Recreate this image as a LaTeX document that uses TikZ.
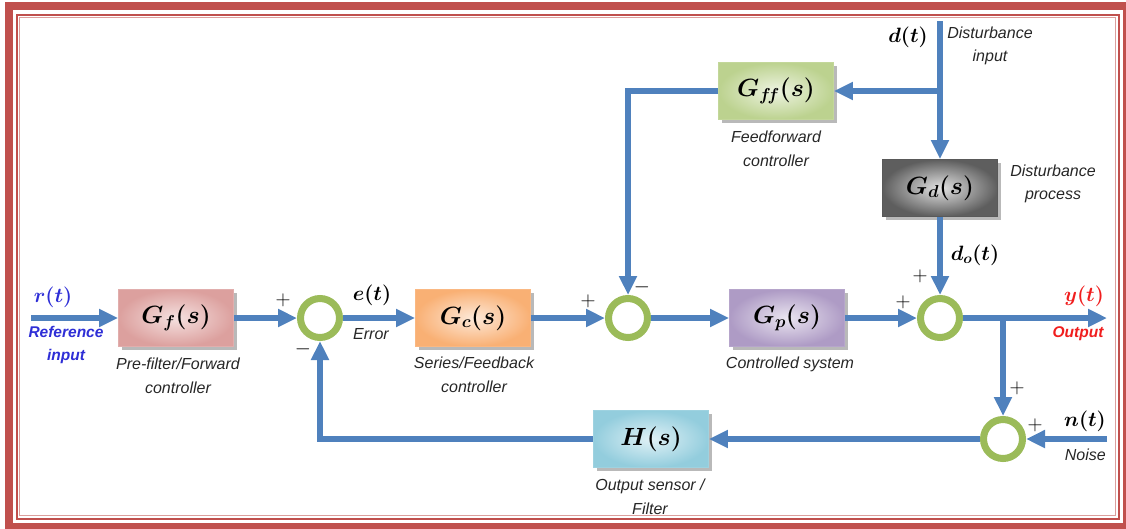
\documentclass[tikz,border=0pt]{standalone}
\usepackage{fontspec}
\usepackage{bm}
\usetikzlibrary{arrows.meta,shadows}
\newfontfamily\lab{Liberation Sans}
\definecolor{frameRed}{HTML}{C0504D}
\definecolor{lineBlue}{HTML}{4F81BD}
\definecolor{ringGreen}{HTML}{9BBB59}
\definecolor{refBlue}{HTML}{2E2ED6}
\definecolor{outRed}{HTML}{F01E1E}
\definecolor{pinkD}{HTML}{DCA09E}\definecolor{pinkL}{HTML}{F5E1E0}
\definecolor{orD}{HTML}{F9B074}\definecolor{orL}{HTML}{FDE9D9}
\definecolor{grD}{HTML}{BCD28F}\definecolor{grL}{HTML}{EEF4E2}
\definecolor{puD}{HTML}{AE9BC5}\definecolor{puL}{HTML}{EAE5F0}
\definecolor{blD}{HTML}{93CDDD}\definecolor{blL}{HTML}{E0F1F6}
\definecolor{gyD}{HTML}{5E5E5E}\definecolor{gyL}{HTML}{E2E2E2}
\tikzset{
  blk/.style n args={3}{draw=#3, inner color=#2, outer color=#1, minimum width=115pt, minimum height=57pt,
    line width=0.8pt, inner sep=0pt,
    drop shadow={shadow xshift=3.5pt, shadow yshift=-3.5pt, fill=black!50, opacity=.55},
    font=\fontsize{24}{28}\selectfont},
  sumj/.style={circle, draw=ringGreen, line width=7pt, fill=white, minimum size=39pt, inner sep=0pt},
  ln/.style={draw=lineBlue, line width=6pt},
  arr/.style={ln, -{Triangle[length=19pt,width=17pt]}},
  lbl/.style={font=\lab\itshape\fontsize{16}{23.5}\selectfont, text=black!85, align=center, inner sep=0pt},
  mlbl/.style={font=\fontsize{22}{26}\selectfont, inner sep=0pt},
  sgn/.style={font=\fontsize{22}{26}\selectfont, inner sep=0pt}
}
\begin{document}
\begin{tikzpicture}[x=1pt,y=-1pt]
\useasboundingbox (0,0) rectangle (1126,528);
\clip (0,0) rectangle (1126,528);
% frame
\draw[line width=8pt, frameRed] (9,6) rectangle (1126.5,527);
\draw[line width=2pt, frameRed] (16.5,14.5) rectangle (1118.5,518.5);
\draw[line width=1.4pt, frameRed!55] (19.5,17.5) rectangle (1115.5,515.5);

% blocks
\node[blk={pinkD}{pinkL}{pinkD!85}] (Gf) at (176,318) {$\bm{G_f(s)}$};
\node[blk={orD}{orL}{orD!90}] (Gc) at (473,318) {$\bm{G_c(s)}$};
\node[blk={puD}{puL}{puD!90}] (Gp) at (787,318) {$\bm{G_p(s)}$};
\node[blk={grD}{grL}{grD!90}] (Gff) at (776,91) {$\bm{G_{f\!f}(s)}$};
\node[blk={gyD}{gyL}{black!65}] (Gd) at (940,188) {$\bm{G_d(s)}$};
\node[blk={blD}{blL}{blD!90}] (H) at (651,439) {$\bm{H(s)}$};

% summing junctions
\node[sumj] (s1) at (320,318) {};
\node[sumj] (s2) at (628,318) {};
\node[sumj] (s3) at (940,318) {};
\node[sumj] (s4) at (1003,439) {};

% free ends
\coordinate (rin) at (31,318);
\coordinate (yout) at (1107,318);
\coordinate (nin) at (1107,439);
\coordinate (din) at (940,21);
\coordinate (dbr) at (940,91);
\coordinate (ybr) at (1003,318);

% connectors
\draw[arr] (rin) -- (Gf.west);
\draw[arr] (Gf.east) -- (s1.west);
\draw[arr] (s1.east) -- (Gc.west);
\draw[arr] (Gc.east) -- (s2.west);
\draw[arr] (s2.east) -- (Gp.west);
\draw[arr] (Gp.east) -- (s3.west);
\draw[arr] (s3.east) -- (yout);
\draw[arr] (ybr) -- (s4.north);
\draw[arr] (nin) -- (s4.east);
\draw[arr] (s4.west) -- (H.east);
\draw[arr] (H.west) -| (s1.south);
\draw[arr] (din) -- (Gd.north);
\draw[arr] (dbr) -- (Gff.east);
\draw[arr] (Gff.west) -| (s2.north);
\draw[arr] (Gd.south) -- (s3.north);

% math labels
\node[mlbl, text=refBlue] (rl) at (53,297) {$\bm{r(t)}$};
\node[mlbl] (el) at (372,295) {$\bm{e(t)}$};
\node[mlbl] (dl) at (908,37) {$\bm{d(t)}$};
\node[mlbl] (dol) at (975,255) {$\bm{d_o(t)}$};
\node[mlbl, text=outRed] (yl) at (1084,296) {$\bm{y(t)}$};
\node[mlbl] (nl) at (1085,421) {$\bm{n(t)}$};

% text labels
\node[lbl, text=refBlue, font=\lab\bfseries\itshape\fontsize{15.5}{23.5}\selectfont] (reft) at (66,345) {Reference\\input};
\node[lbl] (errt) at (371,334) {Error};
\node[lbl, text=outRed, font=\lab\bfseries\itshape\fontsize{15.5}{23.5}\selectfont] (outt) at (1078,334) {Output};
\node[lbl, anchor=east] (noit) at (1106,455) {Noise};
\node[lbl] (gft) at (178,376) {Pre-filter/Forward\\controller};
\node[lbl] (gct) at (474,375) {Series/Feedback\\controller};
\node[lbl] (gpt) at (790,364) {Controlled system};
\node[lbl] (gfft) at (776,149) {Feedforward\\controller};
\node[lbl] (dint) at (990,46) {Disturbance\\input};
\node[lbl] (gdt) at (1053,184) {Disturbance\\process};
\node[lbl] (ht) at (650,497) {Output sensor /\\Filter};

% signs
\node[sgn] at (283,300) {$+$};
\node[sgn] at (303,349) {$-$};
\node[sgn] at (588,301) {$+$};
\node[sgn] at (642,287) {$-$};
\node[sgn] at (903,302) {$+$};
\node[sgn] at (920,276) {$+$};
\node[sgn] at (1017,388) {$+$};
\node[sgn] at (1035,425) {$+$};
\end{tikzpicture}
\end{document}
